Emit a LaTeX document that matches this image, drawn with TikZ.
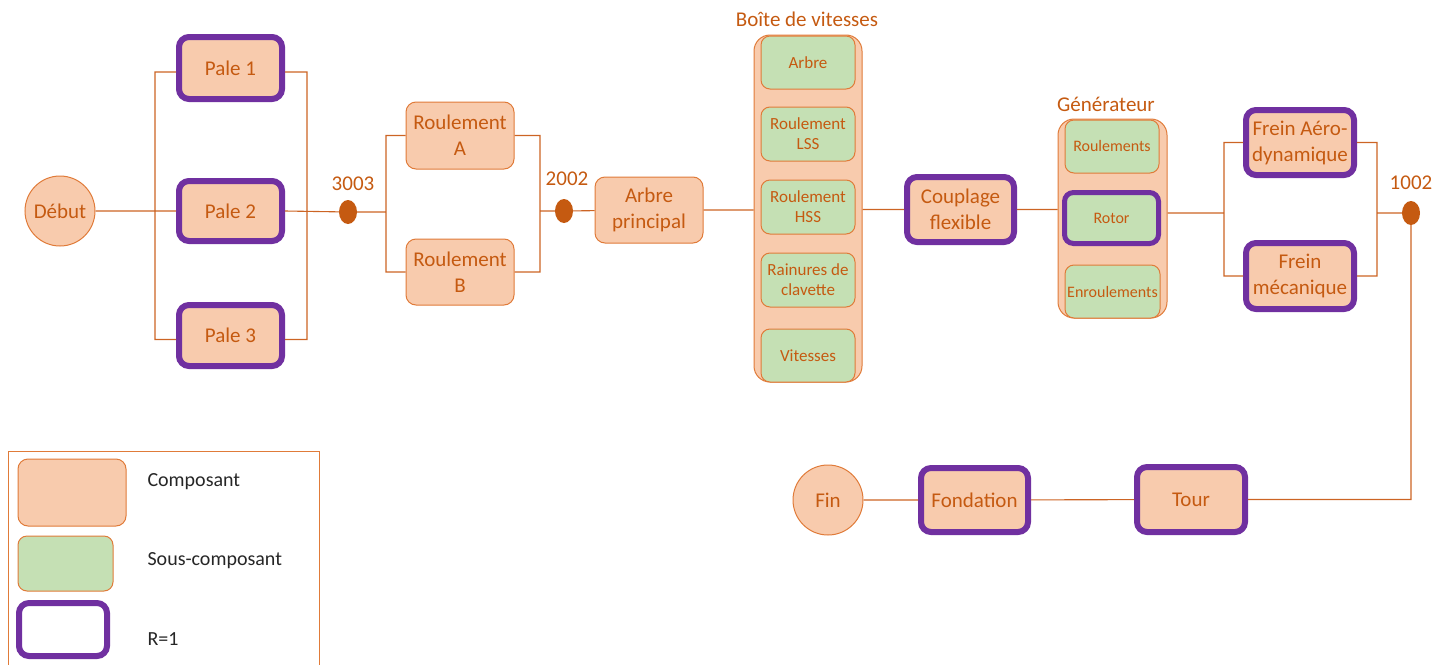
\documentclass[tikz,border=0pt]{standalone}
\usepackage{fontspec}
\setmainfont{Carlito}
\usetikzlibrary{shapes.geometric}

\definecolor{compfill}{HTML}{F8CBAD}
\definecolor{sousfill}{HTML}{C5E0B4}
\definecolor{boxline}{HTML}{E07B39}
\definecolor{rpurple}{HTML}{7030A0}
\definecolor{txt}{HTML}{C55A11}
\definecolor{wire}{HTML}{CC6424}

\newcommand{\mainsize}{\fontsize{21}{26}\selectfont}
\newcommand{\subsize}{\fontsize{16}{20}\selectfont}
\newcommand{\gearsize}{\fontsize{17}{20}\selectfont}

\tikzset{
  comp/.style={rectangle, rounded corners=10pt, draw=boxline, line width=1pt,
    fill=compfill, text=txt, font=\mainsize, align=center, inner sep=1pt},
  sous/.style={comp, fill=sousfill, font=\subsize, rounded corners=9pt},
  rone/.style={draw=rpurple, line width=6pt},
  bloc/.style={comp, rounded corners=16pt},
  debfin/.style={circle, draw=boxline, line width=1pt, fill=compfill,
    text=txt, font=\mainsize, minimum size=70pt, inner sep=0pt},
  kofn/.style={ellipse, fill=txt, minimum width=18pt, minimum height=24pt, inner sep=0pt},
  tag/.style={text=txt, font=\mainsize},
  wires/.style={draw=wire, line width=1.1pt},
  legtext/.style={text=black!85, font=\fontsize{20}{24}\selectfont, anchor=west}
}

\begin{document}
\begin{tikzpicture}[x=1pt, y=-1pt]
  \useasboundingbox (0,0) rectangle (1448,664);
  % Definitions:
  \node[debfin] (debut) at (60,211) {Début};
  \node[comp, rone, minimum width=103pt, minimum height=62pt] (pale1) at (230.5,68) {Pale 1};
  \node[comp, rone, minimum width=103pt, minimum height=60pt] (pale2) at (230.5,211) {Pale 2};
  \node[comp, rone, minimum width=103pt, minimum height=61pt] (pale3) at (230.5,335.5) {Pale 3};
  \node[kofn] (d3003) at (348,212) {};
  \node[comp, minimum width=108pt, minimum height=67pt] (roulA) at (460,135.5) {Roulement\\A};
  \node[comp, minimum width=108pt, minimum height=66pt] (roulB) at (460,272) {Roulement\\B};
  \node[kofn] (d2002) at (564,211) {};
  \node[comp, minimum width=108pt, minimum height=66pt] (arbreP) at (649,210) {Arbre\\principal};
  % gearbox
  \node[bloc, minimum width=108pt, minimum height=347pt] (boite) at (808,208.5) {};
  \node[sous, font=\gearsize, minimum width=94pt, minimum height=53pt] (arbre) at (808,62.5) {Arbre};
  \node[sous, font=\gearsize, minimum width=94pt, minimum height=54pt] (lss) at (808,134) {Roulement\\LSS};
  \node[sous, font=\gearsize, minimum width=94pt, minimum height=54pt] (hss) at (808,207) {Roulement\\HSS};
  \node[sous, font=\gearsize, minimum width=94pt, minimum height=54pt] (rainures) at (808,280) {Rainures de\\clavette};
  \node[sous, font=\gearsize, minimum width=94pt, minimum height=53pt] (vitesses) at (808,355.5) {Vitesses};
  \node[comp, rone, minimum width=107pt, minimum height=65pt] (couplage) at (960.5,209.5) {Couplage\\flexible};
  % generator
  \node[bloc, minimum width=109pt, minimum height=199pt] (gen) at (1112.5,218.5) {};
  \node[sous, minimum width=94pt, minimum height=53pt] (roulements) at (1112,146.5) {Roulements};
  \node[sous, rone, line width=5pt, minimum width=94pt, minimum height=51pt] (rotor) at (1111.5,218) {Rotor};
  \node[sous, minimum width=95pt, minimum height=53pt] (enroulements) at (1112.5,291.5) {Enroulements};
  \node[comp, rone, minimum width=108pt, minimum height=65pt] (freinA) at (1300,142.5) {Frein Aéro-\\dynamique};
  \node[comp, rone, minimum width=108pt, minimum height=66pt] (freinM) at (1300,276) {Frein\\mécanique};
  \node[kofn] (d1002) at (1411,213) {};
  \node[comp, rone, minimum width=108pt, minimum height=65pt] (tour) at (1191,499.5) {Tour};
  \node[comp, rone, minimum width=107pt, minimum height=64pt] (fondation) at (974.5,500) {Fondation};
  \node[debfin] (fin) at (828,500) {Fin};
  \coordinate (b1) at (155,211);
  \coordinate (b2) at (307,212);
  \coordinate (b3) at (386,212);
  \coordinate (b4) at (540,211);
  \coordinate (b5) at (1224,213);
  \coordinate (b6) at (1377,213);
  % Drawing:
  \path[wires] (debut) -- (pale2.west)
    ([yshift=-4pt]pale1.west) -| (b1) |- ([yshift=-4pt]pale3.west)
    ([yshift=-4pt]pale1.east) -| (b2) |- ([yshift=-4pt]pale3.east)
    (pale2.east) -- (d3003) -- (b3)
    (roulA.west) -| (b3) |- (roulB.west)
    (roulA.east) -| (b4) |- (roulB.east)
    (b4) -- (d2002) -- (arbreP)
    (arbreP.east) -- (arbreP.east -| boite.west)
    (boite.east |- couplage.west) -- (couplage.west)
    (couplage.east) -- (couplage.east -| gen.west)
    (gen.east |- b5) -- (b5)
    (freinA.west) -| (b5) |- (freinM.west)
    (freinA.east) -| (b6) |- (freinM.east)
    (b6) -- (d1002)
    (d1002) |- (tour.east)
    (tour) -- (fondation)
    (fondation) -- (fin);
  % Labels:
  \node[tag] (t3003) at (353,184) {3003};
  \node[tag] (t2002) at (567,179) {2002};
  \node[tag] (t1002) at (1411,183) {1002};
  \node[tag] (tboite) at (807,19) {Boîte de vitesses};
  \node[tag] (tgen) at (1106,104) {Générateur};
  % Legend:
  \draw[boxline, line width=1pt] (8,451) rectangle (319,680);
  \node[comp, minimum width=108pt, minimum height=67pt] (lcomp) at (72,492.5) {};
  \node[sous, minimum width=95pt, minimum height=55pt] (lsous) at (65.5,563.5) {};
  \node[comp, rone, fill=white, minimum width=88pt, minimum height=53pt] (lrone) at (63,629.5) {};
  \node[legtext] (tcomp) at (144,482) {Composant};
  \node[legtext] (tsous) at (144,561) {Sous-composant};
  \node[legtext] (trone) at (144,639) {R=1};
\end{tikzpicture}
\end{document}
